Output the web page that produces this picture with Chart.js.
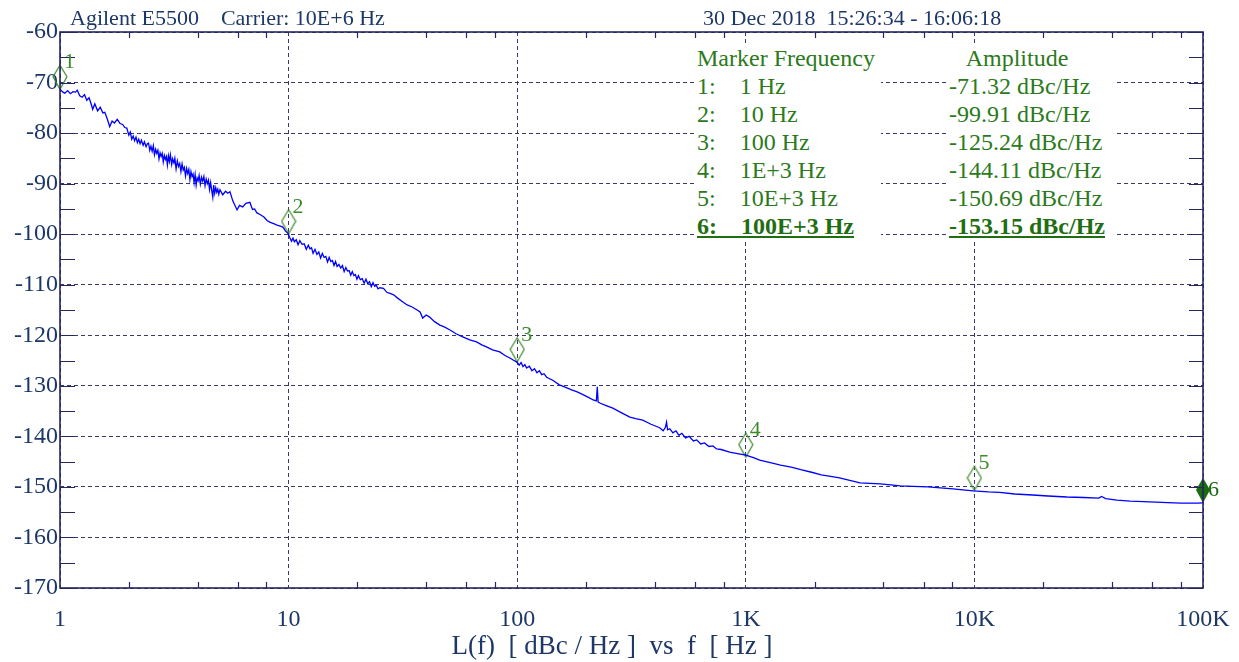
<!DOCTYPE html>
<html>
<head>
<meta charset="utf-8">
<title>Agilent E5500 - phase noise</title>
<script src="https://cdn.jsdelivr.net/npm/chart.js@4.4.1/dist/chart.umd.min.js"></script>
<style>
  html, body { margin: 0; padding: 0; background: #fff; }
  #wrap { position: relative; width: 1239px; height: 662px; overflow: hidden;
          font-family: "Liberation Serif", "Times New Roman", serif; }
  #wrap canvas { position: absolute; left: 0; top: 0; }
  .hdr { position: absolute; top: 7px; font-size: 22px; line-height: 22px; color: #1d3866; white-space: pre; }
  .col { position: absolute; top: 44px; background: #fff; color: #2b7a1b;
         font-size: 24px; line-height: 28px; white-space: pre; }
  .col div { height: 28px; }
  .col .sel { font-weight: bold; text-decoration: underline; color: #1f6e12; }
  #xtitle { position: absolute; top: 630px; left: 0; width: 1224px; text-align: center;
            font-size: 27px; line-height: 30px; color: #1d3866; white-space: pre; }
</style>
</head>
<body>
<div id="wrap">
  <canvas id="chart-noise" width="1239" height="662"></canvas>
  <div class="hdr" style="left:70px">Agilent E5500    Carrier: 10E+6 Hz</div>
  <div class="hdr" style="left:703px">30 Dec 2018  15:26:34 - 16:06:18</div>
  <div class="col" id="col-freq" style="left:697px; width:184px"></div>
  <div class="col" id="col-amp" style="left:949px; width:168px"></div>
  <div id="xtitle">L(f)  [ dBc / Hz ]  vs  f  [ Hz ]</div>
</div>
<script>
// Mesure de bruit de phase : L(f) en dBc/Hz en fonction de l'offset f en Hz
// (une ligne de curveFreq = la même ligne de curveLevel)

const curveFreq = [
  1.00, 1.03, 1.05, 1.08, 1.11, 1.14, 1.17, 1.19, 1.22, 1.25, 1.28, 1.31, 1.34, 1.37, 1.39,
  1.42, 1.46, 1.50, 1.54, 1.57, 1.61, 1.65, 1.69, 1.73, 1.78, 1.83, 1.88, 1.92, 1.96,
  2.00, 2.03, 2.06, 2.09, 2.12, 2.15, 2.18, 2.21, 2.24, 2.27, 2.31, 2.34, 2.38, 2.41,
  2.44, 2.47, 2.50, 2.53, 2.56, 2.59, 2.62, 2.65, 2.68, 2.71, 2.74, 2.77, 2.80, 2.83, 2.86,
  2.89, 2.92, 2.95, 2.98, 3.01, 3.04, 3.08, 3.11, 3.15, 3.18, 3.22, 3.26, 3.30, 3.34, 3.38,
  3.42, 3.46, 3.50, 3.54, 3.58, 3.62, 3.66, 3.70, 3.74, 3.78, 3.82, 3.86, 3.90, 3.94, 3.98,
  4.02, 4.06, 4.11, 4.16, 4.21, 4.26, 4.31, 4.36, 4.41, 4.46, 4.51, 4.56, 4.61, 4.66, 4.70,
  4.75, 4.80, 4.85, 4.90, 4.95, 5.01,
  5.15, 5.30, 5.42, 5.54, 5.70, 5.95, 6.10, 6.30, 6.50, 6.77, 6.95, 7.10, 7.27, 7.50, 7.80,
  8.05, 8.27, 8.60, 8.90, 9.20, 9.44, 9.70, 9.94,
  10.1, 10.3, 10.45, 10.6, 10.8, 11.0, 11.2, 11.45, 11.7, 11.95, 12.2, 12.4, 12.6, 12.8, 13.05,
  13.3, 13.55, 13.8, 14.05, 14.3, 14.55, 14.8, 15.05, 15.3, 15.55, 15.8, 16.05, 16.3, 16.6, 16.9,
  17.2, 17.5, 17.8, 18.1, 18.4, 18.7, 19.0, 19.3, 19.6, 19.9, 20.2, 20.6, 21.0, 21.4, 21.8,
  22.2, 22.6, 23.0, 23.4, 23.8, 24.2, 24.6, 25.1,
  26.0, 26.9, 27.8, 28.8, 29.9, 31.4, 33.0, 34.7, 36.5, 37.6, 38.6, 40.0, 41.4, 43.5, 45.9,
  48.2, 50.6, 54.0, 57.8, 62.0, 66.4, 70.0, 73.4, 78.0, 83.9, 88.4, 92.9, 96.0,
  99.7, 102, 104, 106, 108, 110, 113, 116, 119, 122, 125, 128, 131, 134.5,
  143, 153, 163, 173, 183, 195, 205, 215, 222, 224, 226, 230, 245, 262, 285,
  311, 330, 354, 385,
  420, 435, 445, 450, 455, 465, 480, 495, 510, 525, 545, 565, 590, 610, 635,
  660, 690, 718, 745,
  780, 850, 920, 1000, 1080, 1150, 1280, 1420, 1580, 1740, 1940, 2140, 2350, 2570, 2850,
  3160, 3500, 3870, 4300, 4740, 5400, 6260, 7100, 8070, 8900, 9900, 11500, 12900, 15000, 18000,
  21000, 25400, 30000, 35000, 36000, 37500, 42000, 48000, 55000, 62000, 70000, 80000, 87000, 95000, 100000
];

const curveLevel = [
  -71.3, -71.9, -72.1, -71.6, -72.2, -71.8, -71.9, -71.5, -72.6, -72.9, -72.4, -73.5, -73.0, -74.3, -75.3,
  -74.2, -75.6, -74.9, -76.0, -75.9, -77.2, -78.7, -77.6, -78.0, -77.3, -78.1, -78.3, -78.9, -79.0,
  -80.4, -79.8, -81.2, -80.6, -81.5, -80.8, -81.9, -81.2, -82.1, -81.4, -82.4, -81.7, -82.7, -82.1,
  -82.0, -83.4, -82.6, -83.6, -82.5, -84.3, -83.2, -84.0, -83.4, -85.1, -83.9, -84.6, -84.0, -85.7, -84.4,
  -85.2, -84.6, -86.3, -84.5, -85.6, -84.3, -86.2, -85.1, -85.9, -85.0, -87.1, -85.5, -86.6, -86.0, -87.6,
  -86.1, -87.3, -86.8, -88.5, -87.0, -88.0, -87.2, -89.2, -87.6, -88.6, -88.1, -89.8, -88.2, -90.3, -88.9,
  -89.4, -88.4, -90.1, -88.7, -89.5, -88.6, -90.4, -89.1, -90.0, -89.3, -91.2, -89.8, -91.4, -92.7, -90.3,
  -91.9, -90.8, -91.7, -91.1, -92.1, -91.2,
  -92.2, -91.5, -91.9, -91.6, -93.4, -95.2, -94.3, -94.6, -93.9, -93.7, -95.1, -95.0, -95.8, -96.1, -96.6,
  -97.3, -97.6, -97.9, -98.2, -98.4, -98.6, -99.4, -99.8,
  -100.6, -101.4, -100.8, -101.5, -101.1, -102.1, -101.3, -102.0, -101.9, -103.0, -102.2, -102.9, -102.7, -103.8, -103.0,
  -104.0, -103.5, -104.7, -103.8, -104.6, -104.4, -105.5, -104.6, -105.4, -105.2, -106.2, -105.4, -106.4, -106.0, -106.7,
  -106.2, -107.4, -106.6, -107.3, -107.2, -108.1, -107.4, -108.2, -108.0, -108.9, -108.2, -109.0, -108.8, -109.7, -108.9,
  -109.8, -109.4, -110.4, -109.6, -110.3, -110.1, -110.8, -110.6,
  -110.7, -111.5, -111.7, -112.0, -112.6, -113.3, -114.0, -114.4, -115.0, -115.4, -116.6, -116.0, -116.4, -117.3, -118.0,
  -118.4, -118.9, -119.7, -120.3, -120.9, -121.3, -121.9, -122.3, -122.9, -123.3, -124.0, -124.5, -124.9,
  -125.3, -125.9, -125.4, -126.2, -125.8, -126.5, -126.1, -127.0, -126.6, -127.4, -127.0, -127.8, -127.6, -128.3,
  -128.9, -129.8, -130.3, -130.8, -131.2, -131.8, -132.3, -132.8, -133.0, -130.2, -133.2, -133.4, -133.9, -134.4, -135.3,
  -136.2, -136.5, -136.8, -137.6,
  -138.3, -138.9, -138.2, -137.2, -138.7, -138.5, -139.3, -138.9, -139.8, -139.4, -140.3, -140.0, -140.9, -140.7, -141.5,
  -141.3, -142.0, -141.9, -142.5,
  -142.6, -143.1, -143.4, -143.7, -144.2, -144.7, -145.2, -145.7, -146.1, -146.6, -147.1, -147.6, -147.9, -148.2, -148.7,
  -149.2, -149.3, -149.4, -149.6, -149.8, -149.9, -150.0, -150.2, -150.4, -150.6, -150.8, -151.0, -151.1, -151.4, -151.6,
  -151.8, -152.0, -152.1, -152.2, -151.9, -152.3, -152.6, -152.8, -152.9, -153.0, -153.1, -153.2, -153.2, -153.2, -153.15
];

const markerFreq = [1, 10, 100, 1e3, 1e4, 1e5];
const markerLevel = [-71.32, -99.91, -125.24, -144.11, -150.69, -153.15];
const markerFreqText = ["1 Hz", "10 Hz", "100 Hz", "1E+3 Hz", "10E+3 Hz", "100E+3 Hz"];
const activeMarker = 5;

const xTickValues = [1, 10, 100, 1e3, 1e4, 1e5];
const xTickLabels = ["1", "10", "100", "1K", "10K", "100K"];
const xMinorFactors = [2, 4, 6, 8];
const yTickValues = [-60, -70, -80, -90, -100, -110, -120, -130, -140, -150, -160, -170];

const COLORS = {
  trace: "#0000ff",
  axis: "#262660",
  grid: "#3a3a6c",
  text: "#1d3866",
  marker: "#3c8a2a",
  markerFill: "#1a6a10"
};
const FONT = "'Liberation Serif', 'Times New Roman', serif";

/** Tableau des marqueurs (HTML par-dessus le canvas) */
function buildMarkerTable() {
  const colF = document.getElementById("col-freq");
  const colA = document.getElementById("col-amp");
  let f = "<div>Marker Frequency</div>";
  let a = "<div>   Amplitude</div>";
  markerFreq.forEach((_, i) => {
    const cls = i === activeMarker ? " class=\"sel\"" : "";
    f += `<div><span${cls}>${i + 1}:    ${markerFreqText[i]}</span></div>`;
    a += `<div><span${cls}>${markerLevel[i].toFixed(2)} dBc/Hz</span></div>`;
  });
  colF.innerHTML = f;
  colA.innerHTML = a;
}

/** Losange de marqueur : la pointe basse tombe sur la valeur */
function diamondStyle(filled) {
  const w = 16, h = filled ? 26 : 25;
  const c = document.createElement("canvas");
  c.width = w;
  c.height = h * 2;
  const g = c.getContext("2d");
  g.beginPath();
  g.moveTo(w / 2, 1);
  g.lineTo(w - 1, h / 2);
  g.lineTo(w / 2, h);
  g.lineTo(1, h / 2);
  g.closePath();
  if (filled) {
    g.fillStyle = COLORS.markerFill;
    g.fill();
  } else {
    g.strokeStyle = COLORS.marker;
    g.lineWidth = 1.2;
    g.stroke();
  }
  return c;
}

const openDiamond = diamondStyle(false);
const fullDiamond = diamondStyle(true);

/** Cadre, graduations intérieures et numéros des marqueurs */
const frameTicks = {
  id: "frameTicks",
  afterDatasetsDraw(chart) {
    const { ctx, chartArea: a, scales: { x, y } } = chart;
    ctx.save();
    ctx.strokeStyle = COLORS.axis;
    ctx.lineWidth = 1.2;
    ctx.beginPath();
    yTickValues.forEach((v) => {
      [v, v - 5].forEach((t) => {
        if (t < -170) return;
        const py = Math.round(y.getPixelForValue(t)) + 0.5;
        ctx.moveTo(a.left, py); ctx.lineTo(a.left + 15, py);
        ctx.moveTo(a.right, py); ctx.lineTo(a.right - 14, py);
      });
    });
    xTickValues.slice(0, -1).forEach((d) => {
      xMinorFactors.forEach((m) => {
        const px = Math.round(x.getPixelForValue(d * m)) + 0.5;
        ctx.moveTo(px, a.top); ctx.lineTo(px, a.top + 6);
        ctx.moveTo(px, a.bottom); ctx.lineTo(px, a.bottom - 6);
      });
    });
    ctx.stroke();

    ctx.lineWidth = 1.6;
    ctx.strokeRect(a.left, a.top, a.right - a.left, a.bottom - a.top);

    const pts = chart.getDatasetMeta(1).data;
    ctx.font = "22px " + FONT;
    ctx.textAlign = "left";
    ctx.textBaseline = "middle";
    pts.forEach((p, i) => {
      if (i === activeMarker) {
        ctx.fillStyle = COLORS.markerFill;
        ctx.fillText(String(i + 1), p.x + 5, p.y - 13);
      } else {
        ctx.fillStyle = COLORS.marker;
        ctx.fillText(String(i + 1), p.x + 4, p.y - 27);
      }
    });
    ctx.restore();
  }
};

function createNoiseChart() {
  const canvas = document.getElementById("chart-noise");
  const trace = curveFreq.map((f, i) => ({ x: f, y: curveLevel[i] }));
  const markers = markerFreq.map((f, i) => ({ x: f, y: markerLevel[i] }));

  return new Chart(canvas, {
    type: "line",
    data: {
      datasets: [
        {
          label: "L(f)",
          data: trace,
          borderColor: COLORS.trace,
          borderWidth: 1.3,
          pointRadius: 0,
          tension: 0,
          fill: false
        },
        {
          label: "Markers",
          data: markers,
          showLine: false,
          clip: false,
          pointStyle: (c) => (c.dataIndex === activeMarker ? fullDiamond : openDiamond),
          pointRadius: 10
        }
      ]
    },
    options: {
      responsive: false,
      animation: false,
      layout: { padding: { top: 32, right: 36, left: 0, bottom: 0 } },
      plugins: { legend: { display: false }, tooltip: { enabled: false } },
      scales: {
        x: {
          type: "logarithmic",
          min: 1,
          max: 1e5,
          afterBuildTicks: (s) => { s.ticks = xTickValues.map((v) => ({ value: v })); },
          afterFit: (s) => {
            s.height = 74;
            s.paddingLeft = 0;
            s.paddingRight = 0;
          },
          ticks: {
            autoSkip: false,
            maxRotation: 0,
            padding: 17,
            color: COLORS.text,
            font: { family: FONT, size: 24 },
            callback: (v, i) => xTickLabels[i]
          },
          grid: { color: COLORS.grid, lineWidth: 1, drawTicks: false },
          border: { display: false, dash: [4, 3] }
        },
        y: {
          min: -170,
          max: -60,
          afterBuildTicks: (s) => { s.ticks = yTickValues.map((v) => ({ value: v })); },
          afterFit: (s) => { s.width = 60; },
          ticks: {
            padding: 2,
            color: COLORS.text,
            font: { family: FONT, size: 24 },
            callback: (v) => String(v)
          },
          grid: { color: COLORS.grid, lineWidth: 1, drawTicks: false },
          border: { display: false, dash: [4, 3] }
        }
      }
    },
    plugins: [frameTicks]
  });
}

buildMarkerTable();
createNoiseChart();
</script>
</body>
</html>
